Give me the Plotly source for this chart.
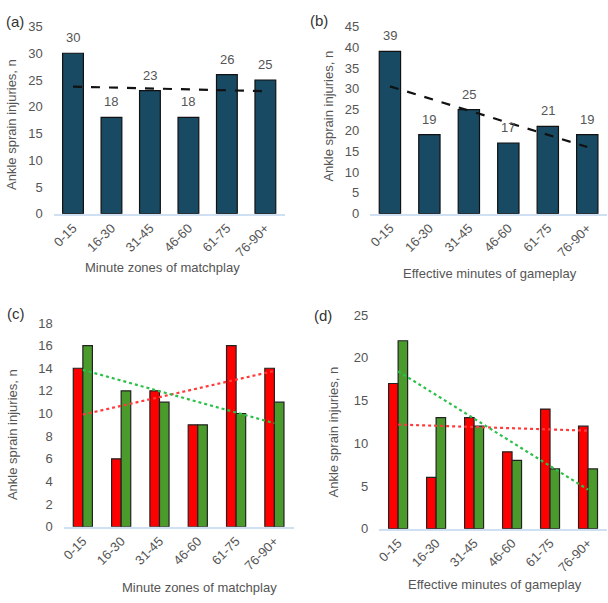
import numpy as np
import plotly.graph_objects as go

categories = ["0-15", "16-30", "31-45", "46-60", "61-75", "76-90+"]
a_vals = [30, 18, 23, 18, 26, 25]
b_vals = [39, 19, 25, 17, 21, 19]
c_red = [14, 6, 12, 9, 16, 14]
c_green = [16, 12, 11, 9, 10, 11]
d_red = [17, 6, 13, 9, 14, 12]
d_green = [22, 13, 12, 8, 7, 7]

W, H = 608, 603
BAR = "#184a63"
RED = "#ff0000"
GREEN = "#4a9a2c"
GREY = "#555555"
FONT = "Liberation Sans"


def trend(vals):
    x = np.arange(1, len(vals) + 1)
    m, b = np.polyfit(x, vals, 1)
    return list(m * x + b)


def px_x(p):
    return p / W


def px_y(p):
    return 1 - p / H


fig = go.Figure()

panels = [
    ("1", (51, 283), (212, 20), 35, 5),
    ("2", (369, 607), (212, 20), 45, 5),
    ("3", (61, 292), (533, 324), 18, 2),
    ("4", (378, 607), (535, 316), 25, 5),
]

for name, (x0, x1), (y0, y1), ymax, dt in panels:
    sfx = "" if name == "1" else name
    fig.layout["xaxis" + sfx] = dict(
        domain=[px_x(x0), px_x(x1)], anchor="y" + sfx, type="category",
        categoryorder="array", categoryarray=categories,
        showline=True, linecolor="#cfe0f3", linewidth=1.5, showgrid=False,
        tickangle=-45, tickfont=dict(family=FONT, size=13, color=GREY),
        ticks="", zeroline=False, fixedrange=True,
    )
    fig.layout["yaxis" + sfx] = dict(
        domain=[px_y(y0), px_y(y1)], anchor="x" + sfx, range=[0, ymax],
        dtick=dt, tick0=0, showgrid=False, showline=False, zeroline=False,
        tickfont=dict(family=FONT, size=13, color=GREY), ticklabelstandoff=10,
        fixedrange=True,
    )

annos = []

# (a) and (b)
for xa, ya, vals in [("x", "y", a_vals), ("x2", "y2", b_vals)]:
    fig.add_trace(go.Bar(x=categories, y=vals, width=0.54,
                         marker=dict(color=BAR, line=dict(color="#111", width=1.2)),
                         xaxis=xa, yaxis=ya, showlegend=False))
    fig.add_trace(go.Scatter(x=categories, y=trend(vals), mode="lines",
                             line=dict(color="#111", width=2.2, dash="dash"),
                             xaxis=xa, yaxis=ya, showlegend=False))
    for c, v in zip(categories, vals):
        annos.append(dict(text=str(v), x=c, y=v, xref=xa, yref=ya, showarrow=False,
                          yanchor="bottom", yshift=6,
                          font=dict(family=FONT, size=13, color=GREY)))

# (c) and (d)
for xa, ya, red, green in [("x3", "y3", c_red, c_green), ("x4", "y4", d_red, d_green)]:
    fig.add_trace(go.Bar(x=categories, y=red, width=0.25, offset=-0.25,
                         marker=dict(color=RED, line=dict(color="#222", width=1.2)),
                         xaxis=xa, yaxis=ya, showlegend=False))
    fig.add_trace(go.Bar(x=categories, y=green, width=0.25, offset=0.0,
                         marker=dict(color=GREEN, line=dict(color="#222", width=1.2)),
                         xaxis=xa, yaxis=ya, showlegend=False))
    fig.add_trace(go.Scatter(x=categories, y=trend(red), mode="lines",
                             line=dict(color="#ff3b3b", width=2.2, dash="dot"),
                             xaxis=xa, yaxis=ya, showlegend=False))
    fig.add_trace(go.Scatter(x=categories, y=trend(green), mode="lines",
                             line=dict(color="#2cc04a", width=2.2, dash="dot"),
                             xaxis=xa, yaxis=ya, showlegend=False))

# panel letters
for txt, x, y in [("(a)", 12, 15), ("(b)", 318, 14), ("(c)", 13, 314), ("(d)", 322, 316)]:
    annos.append(dict(text=txt, x=px_x(x), y=px_y(y), xref="paper", yref="paper", showarrow=False,
                      font=dict(family=FONT, size=15, color="#333"), xanchor="center", yanchor="middle"))
# y titles
for x, y in [(8, 120), (327, 112), (9, 438), (332, 436)]:
    annos.append(dict(text="Ankle sprain injuries, n", x=px_x(x), y=px_y(y), xref="paper", yref="paper",
                      showarrow=False, textangle=-90, font=dict(family=FONT, size=13, color=GREY),
                      xanchor="center", yanchor="middle"))
# x titles
for txt, x, y in [("Minute zones of matchplay", 160, 267), ("Effective minutes of gameplay", 489, 273),
                  ("Minute zones of matchplay", 197, 595), ("Effective minutes of gameplay", 494, 592)]:
    annos.append(dict(text=txt, x=px_x(x), y=px_y(y), xref="paper", yref="paper", showarrow=False,
                      font=dict(family=FONT, size=13, color=GREY), xanchor="center", yanchor="middle"))

fig.update_layout(
    width=W, height=H, margin=dict(l=0, r=0, t=0, b=0), barmode="overlay",
    plot_bgcolor="white", paper_bgcolor="white", annotations=annos,
)

fig.write_html("out.html")
